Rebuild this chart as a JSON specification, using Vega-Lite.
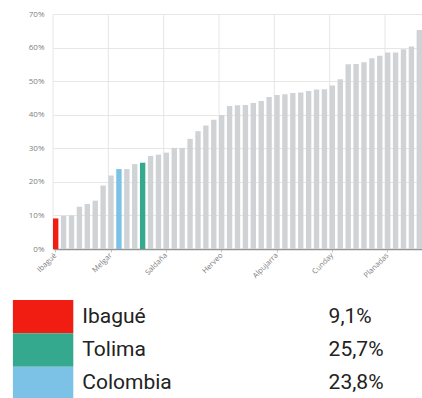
{
  "$schema": "https://vega.github.io/schema/vega-lite/v6.json",
  "autosize": {"type": "pad"},
  "padding": {"left": 12, "top": 10, "right": 0, "bottom": 0},
  "background": "white",
  "bounds": "flush",
  "spacing": 51,
  "resolve": {"scale": {"x": "independent", "y": "independent"}},
  "config": {"view": {"stroke": null}, "font": "Open Sans"},
  "datasets": {
    "tasas": [
      {"municipio": "Ibagué", "valor": 9.1, "grupo": "Ibagué"},
      {"municipio": "Espinal", "valor": 9.9, "grupo": "Otro"},
      {"municipio": "Honda", "valor": 10.0, "grupo": "Otro"},
      {"municipio": "Flandes", "valor": 12.6, "grupo": "Otro"},
      {"municipio": "Lérida", "valor": 13.4, "grupo": "Otro"},
      {"municipio": "Mariquita", "valor": 14.4, "grupo": "Otro"},
      {"municipio": "Guamo", "valor": 18.9, "grupo": "Otro"},
      {"municipio": "Melgar", "valor": 21.9, "grupo": "Otro"},
      {"municipio": "Colombia", "valor": 23.8, "grupo": "Colombia"},
      {"municipio": "Líbano", "valor": 23.8, "grupo": "Otro"},
      {"municipio": "Fresno", "valor": 25.3, "grupo": "Otro"},
      {"municipio": "Tolima", "valor": 25.7, "grupo": "Tolima"},
      {"municipio": "Venadillo", "valor": 27.7, "grupo": "Otro"},
      {"municipio": "Purificación", "valor": 28.1, "grupo": "Otro"},
      {"municipio": "Saldaña", "valor": 28.7, "grupo": "Otro"},
      {"municipio": "Chaparral", "valor": 30.1, "grupo": "Otro"},
      {"municipio": "Carmen de Apicalá", "valor": 30.1, "grupo": "Otro"},
      {"municipio": "Armero", "valor": 32.8, "grupo": "Otro"},
      {"municipio": "Ambalema", "valor": 35.1, "grupo": "Otro"},
      {"municipio": "Cajamarca", "valor": 36.8, "grupo": "Otro"},
      {"municipio": "Piedras", "valor": 38.5, "grupo": "Otro"},
      {"municipio": "Herveo", "valor": 39.9, "grupo": "Otro"},
      {"municipio": "Alvarado", "valor": 42.6, "grupo": "Otro"},
      {"municipio": "Coello", "valor": 42.8, "grupo": "Otro"},
      {"municipio": "Icononzo", "valor": 42.9, "grupo": "Otro"},
      {"municipio": "Prado", "valor": 43.5, "grupo": "Otro"},
      {"municipio": "Natagaima", "valor": 44.1, "grupo": "Otro"},
      {"municipio": "Falan", "valor": 45.3, "grupo": "Otro"},
      {"municipio": "Alpujarra", "valor": 45.9, "grupo": "Otro"},
      {"municipio": "Palocabildo", "valor": 46.1, "grupo": "Otro"},
      {"municipio": "Suárez", "valor": 46.5, "grupo": "Otro"},
      {"municipio": "Villarrica", "valor": 46.6, "grupo": "Otro"},
      {"municipio": "San Luis", "valor": 47.1, "grupo": "Otro"},
      {"municipio": "Valle de San Juan", "valor": 47.5, "grupo": "Otro"},
      {"municipio": "Casabianca", "valor": 47.6, "grupo": "Otro"},
      {"municipio": "Cunday", "valor": 48.7, "grupo": "Otro"},
      {"municipio": "Villahermosa", "valor": 50.6, "grupo": "Otro"},
      {"municipio": "Dolores", "valor": 55.0, "grupo": "Otro"},
      {"municipio": "Murillo", "valor": 55.1, "grupo": "Otro"},
      {"municipio": "Santa Isabel", "valor": 55.6, "grupo": "Otro"},
      {"municipio": "Coyaima", "valor": 56.8, "grupo": "Otro"},
      {"municipio": "Ortega", "valor": 57.6, "grupo": "Otro"},
      {"municipio": "Planadas", "valor": 58.5, "grupo": "Otro"},
      {"municipio": "Anzoátegui", "valor": 58.5, "grupo": "Otro"},
      {"municipio": "San Antonio", "valor": 59.5, "grupo": "Otro"},
      {"municipio": "Ataco", "valor": 60.3, "grupo": "Otro"},
      {"municipio": "Rioblanco", "valor": 65.2, "grupo": "Otro"}
    ],
    "leyenda": [
      {"grupo": "Ibagué", "etiqueta": "9,1%"},
      {"grupo": "Tolima", "etiqueta": "25,7%"},
      {"grupo": "Colombia", "etiqueta": "23,8%"}
    ]
  },
  "vconcat": [
    {
      "width": 369,
      "height": 235,
      "data": {"name": "tasas"},
      "layer": [
        {
          "mark": {"type": "rule", "color": "#e6e6e6", "strokeWidth": 1},
          "encoding": {
            "x": {"field": "municipio", "type": "nominal", "sort": null, "bandPosition": 0},
            "strokeOpacity": {
              "condition": {"test": {"field": "municipio", "oneOf": ["Ibagué", "Melgar", "Saldaña", "Herveo", "Alpujarra", "Cunday", "Planadas"]}, "value": 1},
              "value": 0
            }
          }
        },
        {
          "mark": {"type": "bar"},
          "encoding": {
            "x": {
              "field": "municipio", "type": "nominal", "sort": null,
              "scale": {"paddingInner": 0.32, "paddingOuter": 0},
              "axis": {
                "title": null,
                "values": ["Ibagué", "Melgar", "Saldaña", "Herveo", "Alpujarra", "Cunday", "Planadas"],
                "labelAngle": -45,
                "labelFontSize": 7.5,
                "labelColor": "#808080",
                "labelPadding": 2,
                "tickColor": "#c8c8c8",
                "tickSize": 3,
                "domainColor": "#959595",
                "domainWidth": 1.5,
                "grid": false
              }
            },
            "y": {
              "field": "valor", "type": "quantitative",
              "scale": {"domain": [0, 70], "nice": false},
              "axis": {
                "title": null,
                "values": [0, 10, 20, 30, 40, 50, 60, 70],
                "labelExpr": "datum.value + '%'",
                "labelFontSize": 8,
                "labelColor": "#808080",
                "labelPadding": 9,
                "domain": false,
                "ticks": false,
                "gridColor": "#e6e6e6"
              }
            },
            "color": {
              "field": "grupo", "type": "nominal",
              "scale": {"domain": ["Ibagué", "Tolima", "Colombia", "Otro"], "range": ["#f21d12", "#35a98d", "#7cc1e6", "#d0d3d6"]},
              "legend": null
            }
          }
        }
      ]
    },
    {
      "width": 369,
      "height": 100,
      "data": {"name": "leyenda"},
      "encoding": {
        "y": {"field": "grupo", "type": "nominal", "sort": null, "axis": null, "scale": {"paddingInner": 0, "paddingOuter": 0}}
      },
      "layer": [
        {
          "mark": {"type": "rect"},
          "encoding": {
            "x": {"datum": -40.1, "type": "quantitative", "scale": {"domain": [0, 369], "nice": false, "zero": false}, "axis": null},
            "x2": {"datum": 20.3},
            "color": {
              "field": "grupo", "type": "nominal",
              "scale": {"domain": ["Ibagué", "Tolima", "Colombia", "Otro"], "range": ["#f21d12", "#35a98d", "#7cc1e6", "#d0d3d6"]},
              "legend": null
            }
          }
        },
        {
          "mark": {"type": "text", "align": "left", "baseline": "middle", "fontSize": 21, "font": "Roboto", "color": "#222"},
          "encoding": {
            "x": {"datum": 29.3, "type": "quantitative"},
            "text": {"field": "grupo"}
          }
        },
        {
          "mark": {"type": "text", "align": "left", "baseline": "middle", "fontSize": 21, "font": "Roboto", "color": "#222"},
          "encoding": {
            "x": {"datum": 275.6, "type": "quantitative"},
            "text": {"field": "etiqueta"}
          }
        }
      ]
    }
  ]
}
